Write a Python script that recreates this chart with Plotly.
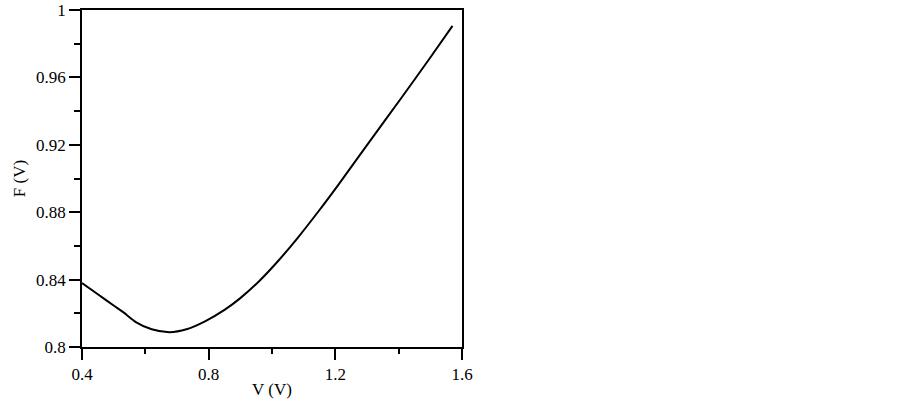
import plotly.graph_objects as go

# curve
v_values = [0.40, 0.45, 0.50, 0.53, 0.57, 0.62, 0.676, 0.73, 0.79, 0.85,
            0.90, 0.96, 1.02, 1.08, 1.15, 1.21, 1.30, 1.41, 1.50, 1.57]
f_values = [0.838, 0.8313, 0.8246, 0.8207, 0.8148, 0.8105, 0.8088, 0.8105, 0.8154, 0.822,
            0.829, 0.8392, 0.8512, 0.8645, 0.8813, 0.8964, 0.9198, 0.9482, 0.9718, 0.9906]

x_ticks = [0.4, 0.8, 1.2, 1.6]
y_ticks = [0.8, 0.84, 0.88, 0.92, 0.96, 1.0]
y_tick_text = ["0.8", "0.84", "0.88", "0.92", "0.96", "1"]

fig = go.Figure()
fig.add_trace(
    go.Scatter(
        x=v_values,
        y=f_values,
        mode="lines",
        line=dict(color="black", width=2, shape="spline", smoothing=0.8),
        showlegend=False,
    )
)

axis_style = dict(
    showline=True,
    linecolor="black",
    linewidth=1.5,
    mirror=True,
    showgrid=False,
    zeroline=False,
    automargin=False,
    ticks="outside",
    ticklen=11,
    tickwidth=1.5,
    tickcolor="black",
    tickfont=dict(family="Liberation Serif", size=17, color="black"),
)

fig.update_xaxes(
    range=[0.4, 1.6],
    tickvals=x_ticks,
    ticktext=[str(t) for t in x_ticks],
    minor=dict(ticks="outside", ticklen=5, tickwidth=1.5, tickcolor="black", dtick=0.2, tick0=0.4),
    title=dict(text="V (V)", font=dict(family="Liberation Serif", size=17, color="black"), standoff=0),
    **axis_style,
)
fig.update_yaxes(
    range=[0.8, 1.0],
    tickvals=y_ticks,
    ticktext=y_tick_text,
    minor=dict(ticks="outside", ticklen=6, tickwidth=1.5, tickcolor="black", dtick=0.02, tick0=0.8),
    title=dict(text="F (V)", font=dict(family="Liberation Serif", size=17, color="black"), standoff=6),
    **axis_style,
)

fig.update_layout(
    width=903,
    height=404,
    margin=dict(l=82, r=441, t=10, b=57),
    plot_bgcolor="white",
    paper_bgcolor="white",
)

# drop the default body margin so the figure sits flush with the window
fig.write_html(
    "out.html",
    config={"displayModeBar": False},
    post_script="document.body.style.margin = '0';",
)
